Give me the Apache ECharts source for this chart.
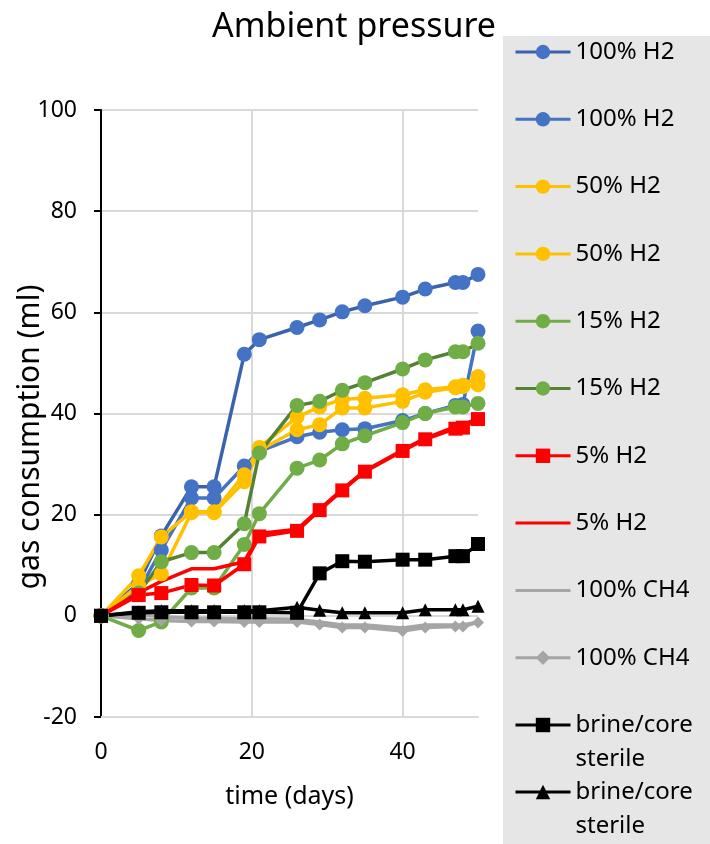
<!DOCTYPE html>
<html><head><meta charset="utf-8">
<script src="https://cdn.jsdelivr.net/npm/echarts@6/dist/echarts.min.js"></script>
<style>html,body{margin:0;padding:0;background:#fff}#c{width:710px;height:844px}</style>
</head><body><div id="c"></div>
<script>
const days = [0, 5, 8, 12, 15, 19, 21, 26, 29, 32, 35, 40, 43, 47, 48, 50];
const h2_100_a = [0, 6.5, 15.8, 25.5, 25.5, 51.7, 54.6, 57.0, 58.5, 60.1, 61.3, 63.0, 64.6, 65.9, 65.9, 67.5];
const h2_100_b = [0, 5.0, 13.0, 23.3, 23.3, 29.6, 32.5, 35.4, 36.3, 36.8, 37.0, 38.6, 40.0, 41.6, 41.8, 56.3];
const h2_50_a = [0, 7.9, 15.6, 20.6, 20.6, 27.9, 33.3, 39.3, 41.3, 42.8, 43.0, 43.7, 44.7, 45.3, 45.6, 47.3];
const h2_50_b = [0, 6.0, 8.3, 20.4, 20.4, 26.5, 32.7, 36.8, 37.8, 41.1, 41.1, 42.4, 44.2, 45.1, 45.3, 45.7];
const h2_15_a = [0, -2.9, -1.2, 5.5, 5.5, 14.1, 20.2, 29.2, 30.8, 34.0, 35.6, 38.2, 40.0, 41.3, 41.3, 42.0];
const h2_15_b = [0, 4.5, 10.7, 12.5, 12.5, 18.2, 32.2, 41.6, 42.4, 44.6, 46.1, 48.8, 50.6, 52.2, 52.2, 53.9];
const h2_5_a = [0, 4.1, 4.5, 6.1, 6.0, 10.2, 15.7, 16.8, 20.9, 24.8, 28.5, 32.6, 34.9, 37.0, 37.2, 38.9];
const h2_5_b = [0, 4.6, 6.8, 9.3, 9.3, 10.7, 16.3, 17.1, 21.1, 25.0, 28.7, 32.8, 35.1, 37.4, 37.7, 39.1];
const ch4_a = [0, 0.2, -0.2, -0.5, -0.5, -0.6, -0.6, -0.7, -1.2, -1.8, -1.8, -2.4, -1.8, -1.8, -1.8, -1.2];
const ch4_b = [0, -0.6, -0.9, -1.1, -1.1, -1.2, -1.2, -1.2, -1.7, -2.3, -2.3, -3.0, -2.3, -2.1, -2.1, -1.3];
const brine_a = [0, 0.6, 0.7, 0.7, 0.7, 0.7, 0.7, 0.6, 8.4, 10.8, 10.7, 11.1, 11.1, 11.8, 11.8, 14.2];
const brine_b = [0, 0.8, 1.0, 1.0, 1.0, 1.0, 1.0, 1.7, 1.1, 0.6, 0.6, 0.6, 1.2, 1.2, 1.2, 1.9];

const names = ['100% H2', '100% H2 ', '50% H2', '50% H2 ', '15% H2', '15% H2 ', '5% H2', '5% H2 ', '100% CH4', '100% CH4 ', 'brine/core sterile', 'brine/core sterile '];
const FONT = 'Noto Sans';

function pairs(arr) { return days.map((d, i) => [d, arr[i]]); }
function mk(name, arr, lineColor, markColor, symbol, size) {
  return {
    name: name, type: 'line', data: pairs(arr),
    symbol: symbol, symbolSize: size, showSymbol: symbol !== 'none',
    lineStyle: { color: lineColor, width: 3.5 },
    itemStyle: { color: markColor },
    emphasis: { disabled: true }, animation: false
  };
}
const series = [
  mk(names[0], h2_100_a, '#3A63AC', '#4472C4', 'circle', 15),
  mk(names[1], h2_100_b, '#4472C4', '#4472C4', 'circle', 15),
  mk(names[2], h2_50_a, '#FFC000', '#FFC000', 'circle', 15),
  mk(names[3], h2_50_b, '#FFC000', '#FFC000', 'circle', 15),
  mk(names[4], h2_15_a, '#70AD47', '#70AD47', 'circle', 15),
  mk(names[5], h2_15_b, '#548235', '#70AD47', 'circle', 15),
  mk(names[6], h2_5_a, '#FF0000', '#FF0000', 'rect', 14),
  mk(names[7], h2_5_b, '#FF0000', '#FF0000', 'none', 0),
  mk(names[8], ch4_a, '#A5A5A5', '#A5A5A5', 'none', 0),
  mk(names[9], ch4_b, '#A5A5A5', '#A5A5A5', 'diamond', 12),
  mk(names[10], brine_a, '#000000', '#000000', 'rect', 14),
  mk(names[11], brine_b, '#000000', '#000000', 'triangle', 13)
];

const legendText = { fontFamily: FONT, fontSize: 24, color: '#000', lineHeight: 24 };
const legendData = names.slice(0, 10).map(n =>
  (n === '5% H2 ' || n === '100% CH4') ? { name: n, itemStyle: { opacity: 0 } } : { name: n });
const chart = echarts.init(document.getElementById('c'), null, { renderer: 'canvas' });
chart.setOption({
  animation: false,
  backgroundColor: '#fff',
  title: {
    text: 'Ambient pressure', left: 349, top: 5, textAlign: 'center',
    textStyle: { fontFamily: FONT, fontSize: 34, fontWeight: 'normal', color: '#000' }
  },
  graphic: [
    { type: 'rect', left: 503, top: 36, z: -1, silent: true,
      shape: { width: 207, height: 808 }, style: { fill: '#E6E6E6' } },
    { type: 'text', x: 30, y: 437, rotation: Math.PI / 2, silent: true,
      style: { text: 'gas consumption (ml)', fontFamily: FONT, fontSize: 30, fill: '#000',
        align: 'center', verticalAlign: 'middle' } }
  ],
  legend: [
    { data: legendData, orient: 'vertical', left: 514, top: 40, padding: 0,
      itemWidth: 55, itemHeight: 18, itemGap: 43.3, textStyle: legendText,
      lineStyle: { width: 3 }, formatter: n => n.trim(), selectedMode: false },
    { data: [names[10]], orient: 'vertical', left: 514, top: 674, padding: 0,
      itemWidth: 55, itemHeight: 18, lineStyle: { width: 3 },
      textStyle: Object.assign({}, legendText, { lineHeight: 34 }),
      formatter: () => '\nbrine/core\nsterile', selectedMode: false },
    { data: [names[11]], orient: 'vertical', left: 514, top: 741, padding: 0,
      itemWidth: 55, itemHeight: 18, lineStyle: { width: 3 },
      textStyle: Object.assign({}, legendText, { lineHeight: 34 }),
      formatter: () => '\nbrine/core\nsterile', selectedMode: false }
  ],
  grid: { left: 101, right: 232, top: 110, bottom: 127, containLabel: false },
  xAxis: {
    type: 'value', min: 0, max: 50, interval: 20,
    name: 'time (days)', nameLocation: 'middle', nameGap: 67,
    nameTextStyle: { fontFamily: FONT, fontSize: 25, color: '#000' },
    axisLine: { onZero: false, lineStyle: { color: '#D9D9D9', width: 2 } },
    axisTick: { show: false },
    axisLabel: { fontFamily: FONT, fontSize: 23, color: '#000', margin: 24, showMaxLabel: false,
      formatter: v => (v % 20 === 0 ? String(v) : '') },
    splitLine: { show: true, showMaxLine: false, lineStyle: { color: '#D9D9D9', width: 2 } }
  },
  yAxis: {
    type: 'value', min: -20, max: 100, interval: 20,
    axisLine: { show: true, onZero: false, lineStyle: { color: '#000', width: 2 } },
    axisTick: { show: true, length: 7, lineStyle: { color: '#000', width: 2 } },
    axisLabel: { fontFamily: FONT, fontSize: 23, color: '#000', margin: 24 },
    splitLine: { show: true, lineStyle: { color: '#D9D9D9', width: 2 } }
  },
  series: series
});
</script>
</body></html>
